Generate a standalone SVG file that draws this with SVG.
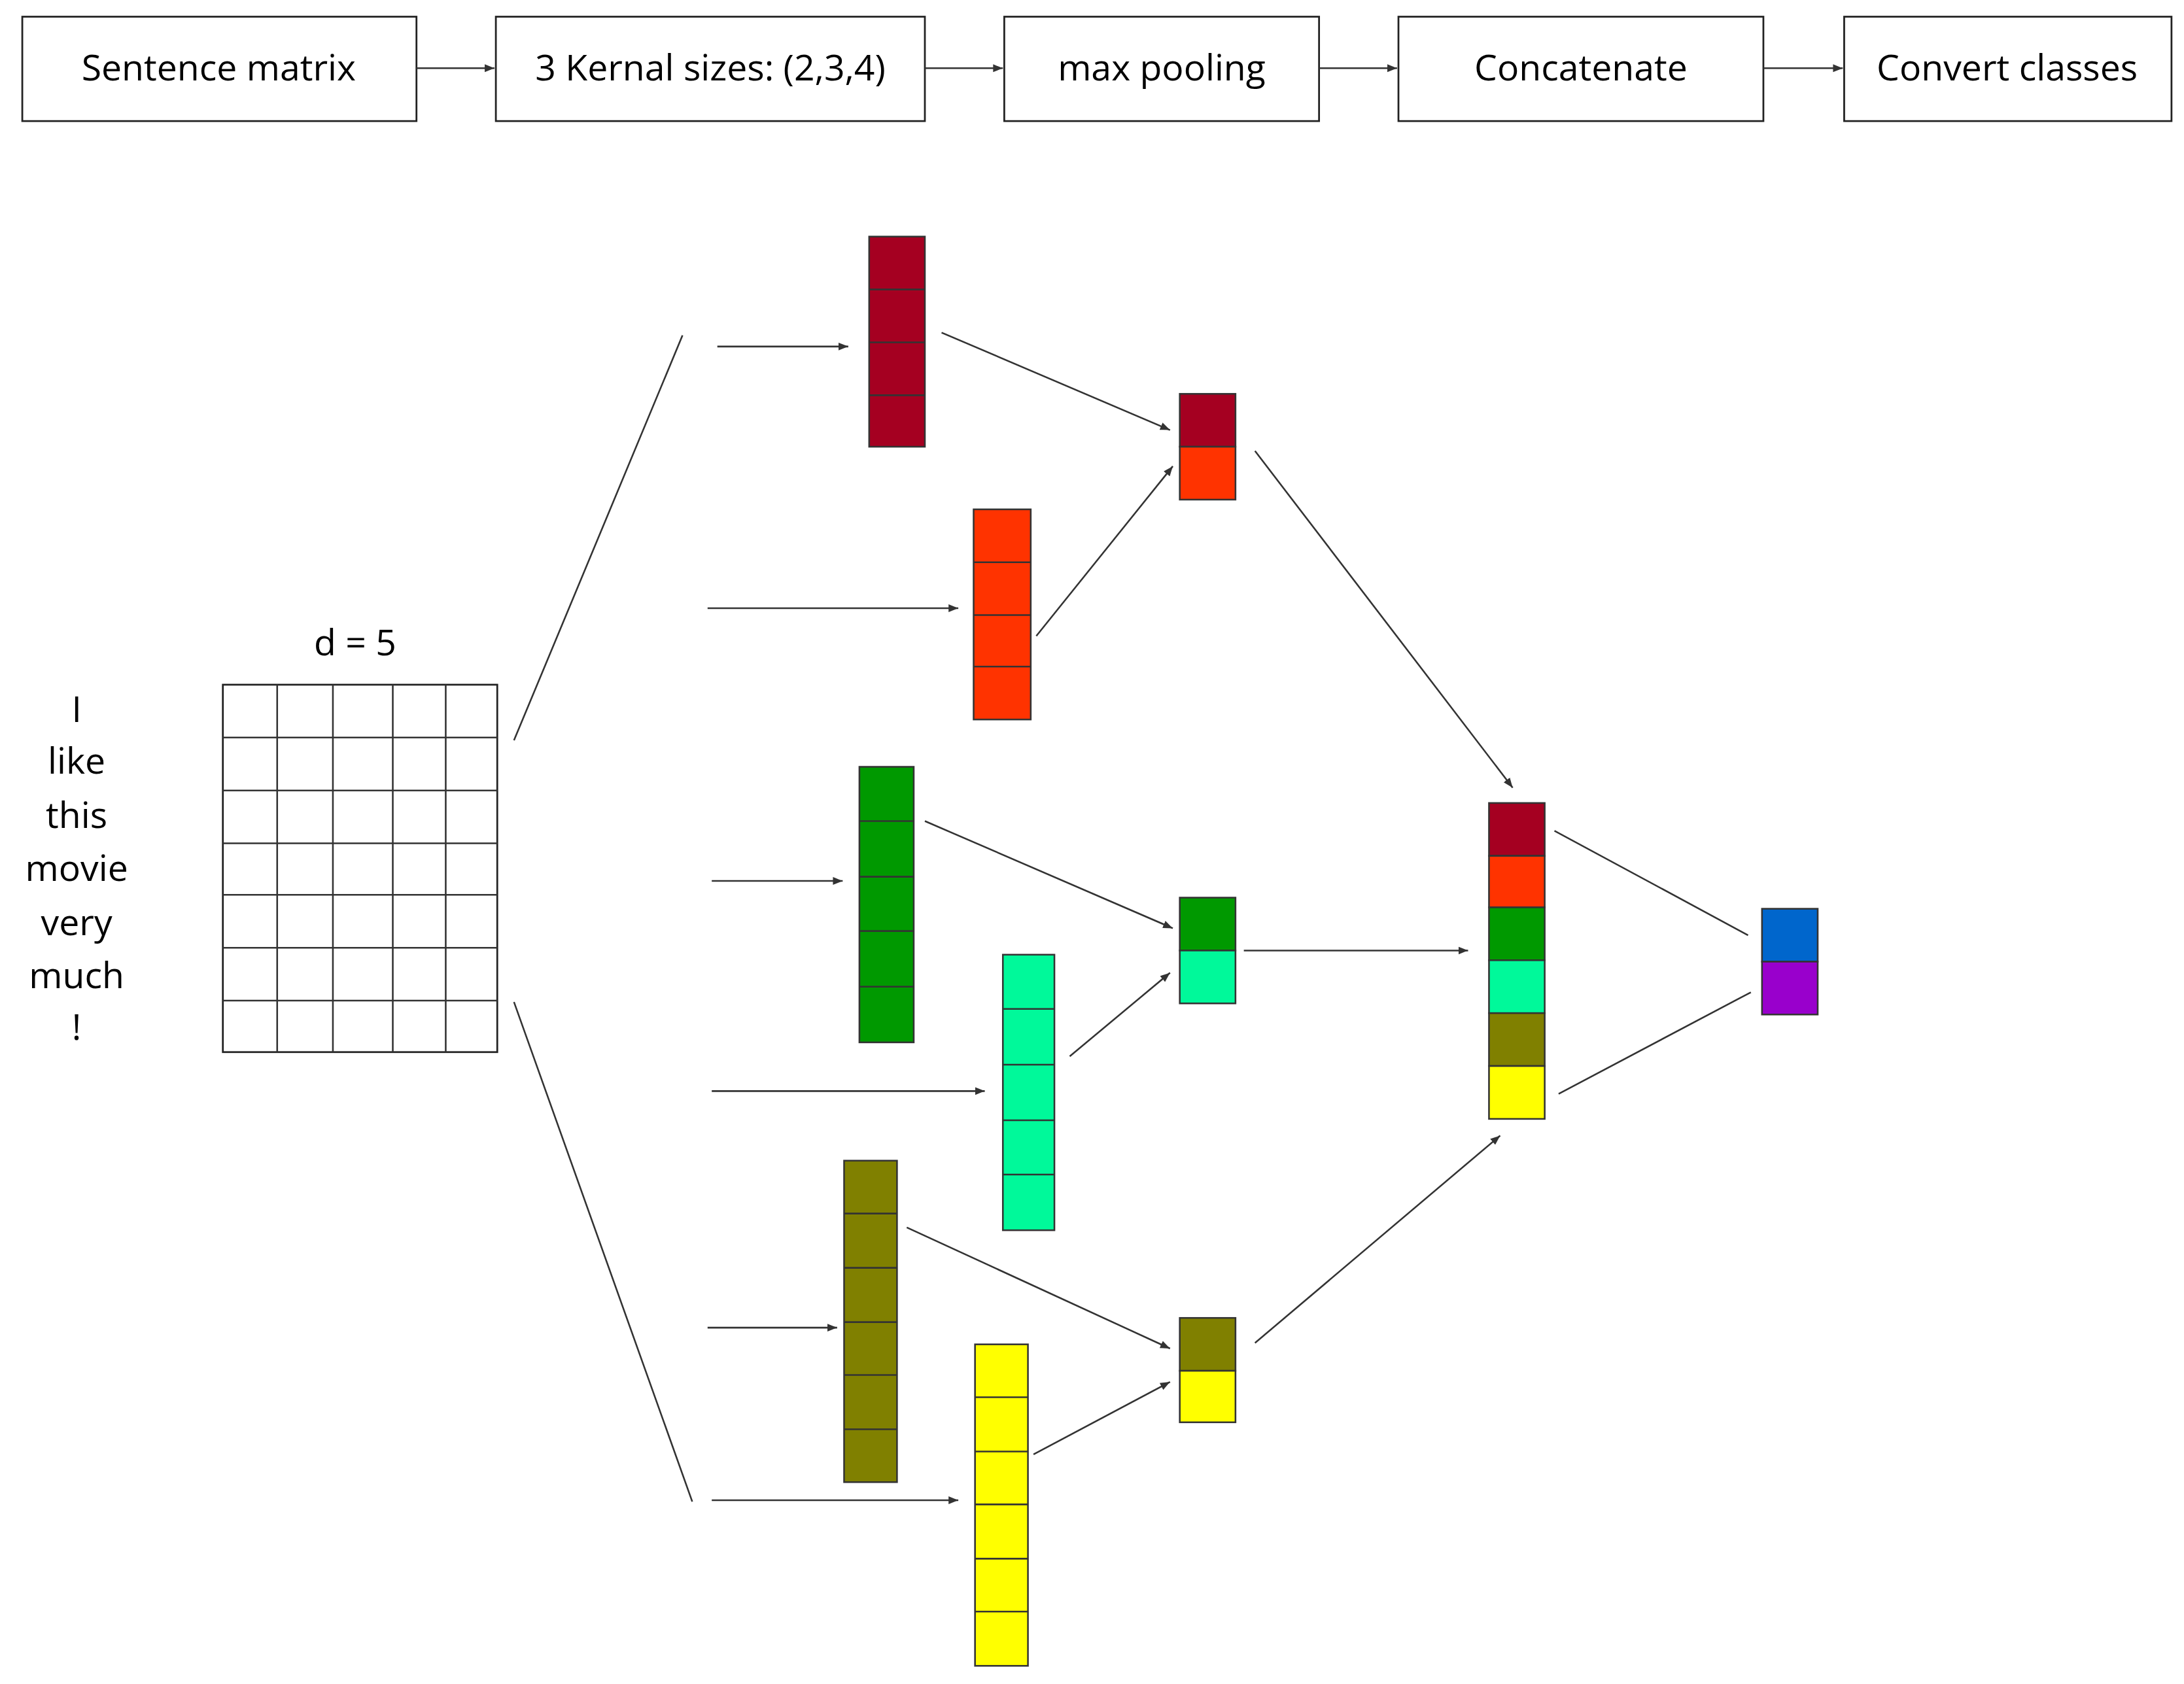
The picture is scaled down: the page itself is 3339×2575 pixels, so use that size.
<svg xmlns="http://www.w3.org/2000/svg" width="3339" height="2575" viewBox="0 0 3339 2575">
<style>
.b{fill:#fff;stroke:#222;stroke-width:1.3}
.t{font-family:"Open Sans","Liberation Sans",sans-serif;font-size:26px;fill:#000;text-anchor:middle}
.c{stroke:#333;stroke-width:1.2}
.l{stroke:#333;stroke-width:1.2;fill:none}
.a{stroke:#333;stroke-width:1.2;fill:none;marker-end:url(#m)}
</style>
<defs>
<marker id="m" viewBox="0 0 10 10" refX="10" refY="5" markerWidth="7" markerHeight="7" orient="auto" markerUnits="userSpaceOnUse"><path d="M0,1L10,5L0,9z" fill="#333"/></marker>
</defs>
<rect width="3339" height="2575" fill="#fff"/>
<g transform="scale(2.1295 2.128)">
<g id="pipeline">
<g id="n1"><rect class="b" x="16" y="12" width="283" height="75"/><text class="t" x="157" y="58">Sentence matrix</text></g>
<g id="n2"><rect class="b" x="356" y="12" width="308" height="75"/><text class="t" x="510" y="58">3 Kernal sizes: (2,3,4)</text></g>
<g id="n3"><rect class="b" x="721" y="12" width="226" height="75"/><text class="t" x="834" y="58">max pooling</text></g>
<g id="n4"><rect class="b" x="1004" y="12" width="262" height="75"/><text class="t" x="1135" y="58">Concatenate</text></g>
<g id="n5"><rect class="b" x="1324" y="12" width="235" height="75"/><text class="t" x="1441" y="58">Convert classes</text></g>
</g>
<g id="words">
<text class="t" x="55" y="519">I</text><text class="t" x="55" y="556">like</text><text class="t" x="55" y="595">this</text><text class="t" x="55" y="633">movie</text><text class="t" x="55" y="672">very</text><text class="t" x="55" y="710">much</text><text class="t" x="55" y="747">!</text>
</g>
<g id="matrix">
<text class="t" x="255" y="471">d = 5</text>
<rect class="b" x="160" y="492" width="197" height="264"/>
<path class="l" d="M199,492V756M239,492V756M282,492V756M320,492V756M160,530H357M160,568H357M160,606H357M160,643H357M160,681H357M160,719H357"/>
</g>
<g id="filters" class="c">
<g id="f1" fill="#A50021"><rect x="624" y="170" width="40" height="151"/><path d="M624,208H664M624,246H664M624,284H664"/></g>
<g id="f2" fill="#FF3300"><rect x="699" y="366" width="41" height="151"/><path d="M699,404H740M699,442H740M699,479H740"/></g>
<g id="f3" fill="#009900"><rect x="617" y="551" width="39" height="198"/><path d="M617,590H656M617,630H656M617,669H656M617,709H656"/></g>
<g id="f4" fill="#00F99A"><rect x="720" y="686" width="37" height="198"/><path d="M720,725H757M720,765H757M720,805H757M720,844H757"/></g>
<g id="f5" fill="#808000"><rect x="606" y="834" width="38" height="231"/><path d="M606,872H644M606,911H644M606,950H644M606,988H644M606,1027H644"/></g>
<g id="f6" fill="#FFFF00"><rect x="700" y="966" width="38" height="231"/><path d="M700,1004H738M700,1043H738M700,1081H738M700,1120H738M700,1158H738"/></g>
</g>
<g id="pooled" class="c">
<g id="p1"><rect x="847" y="283" width="40" height="38" fill="#A50021"/><rect x="847" y="321" width="40" height="38" fill="#FF3300"/></g>
<g id="p2"><rect x="847" y="645" width="40" height="38" fill="#009900"/><rect x="847" y="683" width="40" height="38" fill="#00F99A"/></g>
<g id="p3"><rect x="847" y="947" width="40" height="38" fill="#808000"/><rect x="847" y="985" width="40" height="37" fill="#FFFF00"/></g>
</g>
<g id="concat" class="c">
<rect x="1069" y="577" width="40" height="38" fill="#A50021"/>
<rect x="1069" y="615" width="40" height="37" fill="#FF3300"/>
<rect x="1069" y="652" width="40" height="38" fill="#009900"/>
<rect x="1069" y="690" width="40" height="38" fill="#00F99A"/>
<rect x="1069" y="728" width="40" height="38" fill="#808000"/>
<rect x="1069" y="766" width="40" height="38" fill="#FFFF00"/>
</g>
<g id="output" class="c">
<rect x="1265" y="653" width="40" height="38" fill="#0066CC"/>
<rect x="1265" y="691" width="40" height="38" fill="#9900CC"/>
</g>
<g id="connectors">
<path class="a" d="M299,49H355"/><path class="a" d="M664,49H720"/><path class="a" d="M947,49H1003"/><path class="a" d="M1266,49H1323"/>
<path class="l" d="M369,532L490,241M369,720L497,1079"/>
<path class="a" d="M515,249H609"/><path class="a" d="M508,437H688"/><path class="a" d="M511,633H605"/><path class="a" d="M511,784H707"/><path class="a" d="M508,954H601"/><path class="a" d="M511,1078H688"/>
<path class="a" d="M676,239L840,309"/><path class="a" d="M744,457L842,335"/><path class="a" d="M664,590L842,667"/><path class="a" d="M768,759L840,699"/><path class="a" d="M651,882L840,969"/><path class="a" d="M742,1045L840,993"/>
<path class="a" d="M901,324L1086,566"/><path class="a" d="M893,683L1054,683"/><path class="a" d="M901,965L1077,816"/>
<path class="l" d="M1116,597L1255,672M1119,786L1257,713"/>
</g>
</g>
</svg>
